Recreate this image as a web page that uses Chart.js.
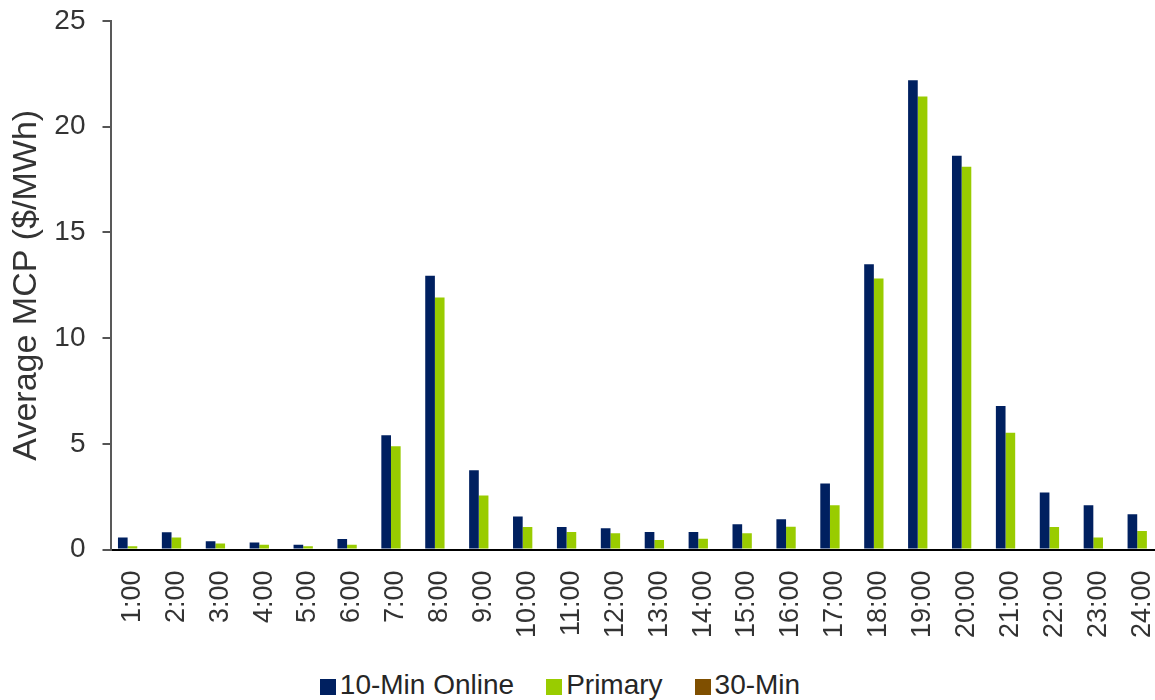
<!DOCTYPE html>
<html>
<head>
<meta charset="utf-8">
<script src="https://cdn.jsdelivr.net/npm/chart.js@4/dist/chart.umd.min.js"></script>
<style>
  html,body{margin:0;padding:0;background:#fff;overflow:hidden;width:1155px;height:700px}
  #wrap{position:absolute;left:0;top:0;width:1175px;height:660px}
  #legend{position:absolute;left:0;top:668px;width:1120px;text-align:center;
    font-family:'Liberation Sans',Arial,sans-serif;font-size:28px;color:#262626;line-height:34px;white-space:nowrap}
  .li{display:inline-block;margin:0 16px}
  .li i{display:inline-block;width:16px;height:16px;margin-right:4px;vertical-align:-1px}
</style>
</head>
<body>
<div id="wrap"><canvas id="ch" width="1170" height="660"></canvas></div>
<div id="legend"></div>
<script>
// hours on the x axis
const hours = ['1:00','2:00','3:00','4:00','5:00','6:00','7:00','8:00','9:00','10:00','11:00','12:00',
  '13:00','14:00','15:00','16:00','17:00','18:00','19:00','20:00','21:00','22:00','23:00','24:00'];

// average MCP, $/MWh
const tenMinOnline = [0.57,0.82,0.39,0.33,0.22,0.50,5.41,12.95,3.75,1.56,1.07,1.00,
  0.83,0.83,1.20,1.43,3.12,13.49,22.20,18.62,6.79,2.70,2.09,1.67];
const primary = [0.15,0.57,0.28,0.22,0.15,0.22,4.89,11.92,2.56,1.07,0.83,0.77,
  0.45,0.51,0.77,1.08,2.09,12.82,21.43,18.10,5.52,1.06,0.57,0.87];
const thirtyMin = [0,0,0,0,0,0,0,0,0,0,0,0,0,0,0,0,0,0,0,0,0,0,0,0];

const seriesNames = ['10-Min Online','Primary','30-Min'];
const seriesColors = ['#002060','#99CC00','#7F4F00'];
const yTicks = [0,5,10,15,20,25];

const FONT = "'Liberation Sans', Arial, sans-serif";
const TXT = '#333333';

const chart = new Chart(document.getElementById('ch'), {
  type:'bar',
  data:{
    labels:hours,
    datasets:[tenMinOnline,primary,thirtyMin].map((d,i)=>({
      label:seriesNames[i], data:d, backgroundColor:seriesColors[i],
      barPercentage:1, categoryPercentage:0.66
    }))
  },
  options:{
    responsive:false, animation:false,
    layout:{padding:{top:21,right:6,left:6,bottom:0}},
    plugins:{legend:{display:false},tooltip:{enabled:false}},
    scales:{
      x:{
        grid:{display:false,drawTicks:false},
        border:{color:'#000',width:2},
        ticks:{font:{family:FONT,size:27},color:TXT,minRotation:90,maxRotation:90,padding:21,autoSkip:false},
        afterFit:s=>{s.height=110.5; s.paddingLeft=0; s.paddingRight=0;}
      },
      y:{
        min:0,max:25,
        afterBuildTicks:s=>{s.ticks=yTicks.map(v=>({value:v}));},
        grid:{display:true,drawOnChartArea:false,drawTicks:true,tickLength:8,color:'#555',lineWidth:2},
        border:{color:'#595959',width:2},
        ticks:{font:{family:FONT,size:28},color:TXT,padding:17},
        title:{display:true,text:'Average MCP ($/MWh)',font:{family:FONT,size:34},color:TXT,padding:{top:0,bottom:0}},
        afterFit:s=>{s.width=104.5; s.paddingTop=0; s.paddingBottom=0;}
      }
    }
  }
});

// legend below the chart
document.getElementById('legend').innerHTML = chart.data.datasets.map(ds=>
  `<span class="li"><i style="background:${ds.backgroundColor}"></i>${ds.label}</span>`).join('');
</script>
</body>
</html>
